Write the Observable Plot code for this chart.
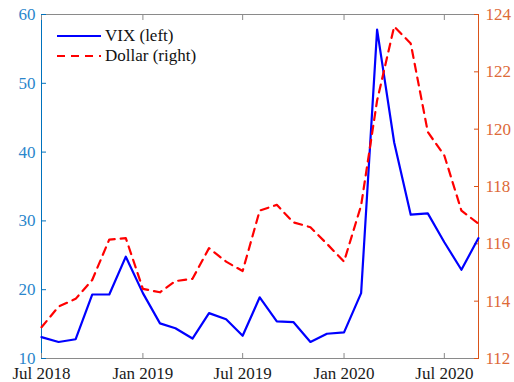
<!DOCTYPE html>
<html>
<head>
<meta charset="utf-8">
<script src="https://cdn.jsdelivr.net/npm/d3@7"></script>
<script src="https://cdn.jsdelivr.net/npm/@observablehq/plot@0.6"></script>
<style>
  body { margin: 0; background: #fff; }
  #wrap { position: relative; width: 514px; height: 382px; font-family: "Liberation Serif", serif; }
  #legend { position: absolute; left: 55px; top: 26px; font-size: 17px; color: #111; line-height: 20px; }
  #legend div { display: flex; align-items: center; height: 20px; }
  #legend svg { margin-right: 4px; }
</style>
</head>
<body>
<div id="wrap">
  <div id="chart"></div>
  <div id="legend"></div>
</div>
<script>
// Monthly observations, Jul 2018 – Sep 2020
const months = [
  "2018-07", "2018-08", "2018-09", "2018-10", "2018-11", "2018-12",
  "2019-01", "2019-02", "2019-03", "2019-04", "2019-05", "2019-06",
  "2019-07", "2019-08", "2019-09", "2019-10", "2019-11", "2019-12",
  "2020-01", "2020-02", "2020-03", "2020-04", "2020-05", "2020-06",
  "2020-07", "2020-08", "2020-09"
];

// VIX (left axis)
const vix = [
  13.1, 12.4, 12.8, 19.3, 19.3, 24.8,
  19.5, 15.1, 14.4, 12.9, 16.6, 15.7,
  13.3, 18.9, 15.4, 15.3, 12.4, 13.6,
  13.8, 19.5, 57.8, 41.4, 30.9, 31.1,
  26.9, 22.9, 27.5
];

// Dollar index (right axis)
const dollar = [
  113.09, 113.81, 114.08, 114.74, 116.15, 116.20,
  114.43, 114.31, 114.70, 114.78, 115.85, 115.38,
  115.05, 117.16, 117.36, 116.75, 116.58, 116.00,
  115.38, 117.34, 121.00, 123.58, 122.99, 119.90,
  119.08, 117.16, 116.70
];

const leftTicks = [10, 20, 30, 40, 50, 60];
const rightTicks = [112, 114, 116, 118, 120, 122, 124];
const xTickMonths = ["2018-07", "2019-01", "2019-07", "2020-01", "2020-07"];

const leftDomain = [10, 60];
const rightDomain = [112, 124];
const xDomain = [new Date("2018-07-01"), new Date("2020-09-01")];

// Map right-axis values into the left-axis range so both series share one y scale
const toLeft = v => leftDomain[0] + (v - rightDomain[0]) * (leftDomain[1] - leftDomain[0]) / (rightDomain[1] - rightDomain[0]);
const fromLeft = v => rightDomain[0] + (v - leftDomain[0]) * (rightDomain[1] - rightDomain[0]) / (leftDomain[1] - leftDomain[0]);

const data = months.map((m, i) => ({date: new Date(m + "-01"), vix: vix[i], dollar: dollar[i]}));
const xTicks = xTickMonths.map(m => new Date(m + "-01"));

const blueAxis = "#0072BD";
const orangeAxis = "#D95319";
const boxGray = "#8a8a8a";
const fmt = d3.utcFormat("%b %Y");
const serif = "Liberation Serif";
const textSize = 17;

const chart = Plot.plot({
  width: 514,
  height: 382,
  marginTop: 14,
  marginBottom: 24,
  marginLeft: 41,
  marginRight: 36,
  style: `background: #fff; overflow: visible; font-family: '${serif}', serif; font-size: ${textSize}px;`,
  x: {type: "utc", domain: xDomain},
  y: {domain: leftDomain},
  marks: [
    // box
    Plot.ruleY(leftDomain, {stroke: boxGray, strokeWidth: 1}),
    Plot.ruleX([xDomain[0]], {stroke: blueAxis, strokeWidth: 1}),
    Plot.ruleX([xDomain[1]], {stroke: orangeAxis, strokeWidth: 1}),
    // x axes (ticks point inward)
    Plot.axisX({anchor: "bottom", ticks: xTicks, tickSize: -5, tickPadding: 13, tickFormat: fmt,
      stroke: boxGray, fill: "#1a1a1a", label: null, fontFamily: serif, fontSize: textSize}),
    Plot.axisX({anchor: "top", ticks: xTicks, tickSize: -5, tickFormat: () => "", stroke: boxGray, label: null}),
    // left axis (VIX)
    Plot.axisY({anchor: "left", ticks: leftTicks, tickSize: -5, tickPadding: 11,
      stroke: blueAxis, fill: "#2a86cc", label: null, fontFamily: serif, fontSize: textSize}),
    // right axis (Dollar)
    Plot.axisY({anchor: "right", ticks: rightTicks.map(toLeft), tickSize: -5, tickPadding: 12,
      tickFormat: v => String(Math.round(fromLeft(v))), stroke: orangeAxis, fill: "#dd6a38", label: null,
      fontFamily: serif, fontSize: textSize}),
    // series
    Plot.line(data, {x: "date", y: "vix", stroke: "#0000ff", strokeWidth: 2.2}),
    Plot.line(data, {x: "date", y: d => toLeft(d.dollar), stroke: "#ff0000", strokeWidth: 2.2, strokeDasharray: "8,6"})
  ]
});
document.getElementById("chart").appendChild(chart);

// Legend
const legendItems = [
  {label: "VIX (left)", stroke: "#0000ff", dash: null},
  {label: "Dollar (right)", stroke: "#ff0000", dash: "8,6"}
];
const legend = d3.select("#legend");
for (const item of legendItems) {
  const row = legend.append("div");
  const svg = row.append("svg").attr("width", 46).attr("height", 20);
  svg.append("line")
    .attr("x1", 2).attr("x2", 46).attr("y1", 10).attr("y2", 10)
    .attr("stroke", item.stroke).attr("stroke-width", 2.2)
    .attr("stroke-dasharray", item.dash);
  row.append("span").text(item.label);
}
</script>
</body>
</html>
